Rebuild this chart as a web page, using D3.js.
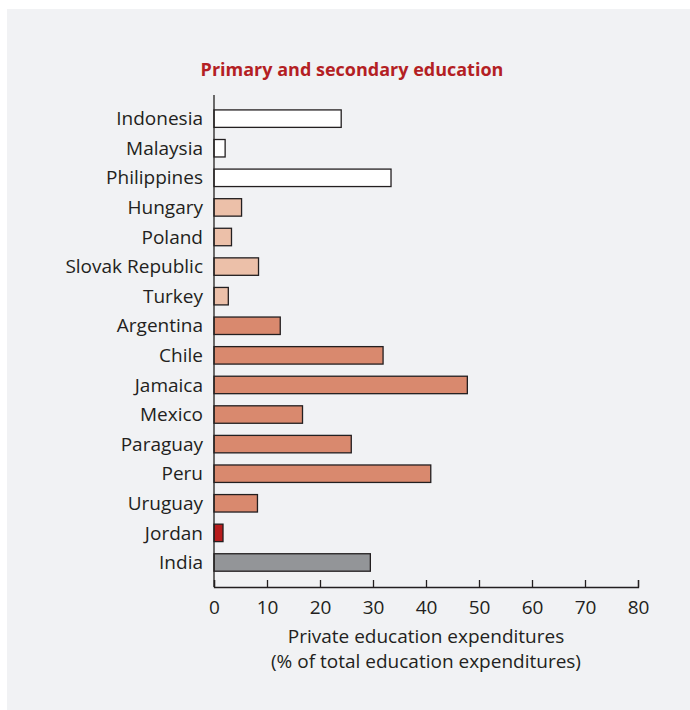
<!DOCTYPE html>
<html>
<head>
<meta charset="utf-8">
<script src="https://cdn.jsdelivr.net/npm/d3@7"></script>
<style>
  body { margin: 0; background: #fff; }
  svg { display: block; }
  text { font-family: "Open Sans", sans-serif; fill: #231f20; }
  .title { font-weight: bold; fill: #b41f24; font-size: 18px; }
  .axis path, .axis line { stroke: #231f20; stroke-width: 1.3; }
  .axis text { font-size: 19px; }
</style>
</head>
<body>
<svg id="chart" width="690" height="710"></svg>
<script>
// data
const countries = ['Indonesia', 'Malaysia', 'Philippines', 'Hungary', 'Poland', 'Slovak Republic', 'Turkey',
  'Argentina', 'Chile', 'Jamaica', 'Mexico', 'Paraguay', 'Peru', 'Uruguay', 'Jordan', 'India'];
const values = [24.0, 2.1, 33.4, 5.2, 3.3, 8.4, 2.7, 12.5, 31.9, 47.8, 16.7, 25.9, 40.9, 8.2, 1.7, 29.5];
const groups = ['asia', 'asia', 'asia', 'europe', 'europe', 'europe', 'europe',
  'latam', 'latam', 'latam', 'latam', 'latam', 'latam', 'latam', 'mena', 'south'];
const xTicks = [0, 10, 20, 30, 40, 50, 60, 70, 80];

const title = 'Primary and secondary education';
const xLabel1 = 'Private education expenditures';
const xLabel2 = '(% of total education expenditures)';

const colors = {asia: '#ffffff', europe: '#ecc0a9', latam: '#d9896e', mena: '#b71c1c', south: '#939598'};

const svg = d3.select('#chart');

// background panel
svg.append('rect')
  .attr('x', 7).attr('y', 9)
  .attr('width', 683).attr('height', 701)
  .attr('fill', '#f1f2f4');

const margin = {top: 95, left: 214},
    chartWidth = 638 - 214,
    chartHeight = 587 - 95;

const g = svg.append('g')
  .attr('transform', `translate(${margin.left}, ${margin.top})`);

// ---------- Scales
const xScale = d3.scaleLinear()
  .domain([0, 80])
  .range([0, chartWidth]);

const yScale = d3.scaleBand()
  .domain(countries)
  .range([9, 9 + 29.57 * 16])
  .paddingInner(0.41)
  .paddingOuter(0.2);

// bars
g.selectAll('.bar')
  .data(countries)
  .enter().append('rect')
  .attr('class', 'bar')
  .attr('x', 0)
  .attr('y', d => yScale(d))
  .attr('width', (d, i) => xScale(values[i]))
  .attr('height', yScale.bandwidth())
  .attr('fill', (d, i) => colors[groups[i]])
  .attr('stroke', '#231f20')
  .attr('stroke-width', 1.3);

// x axis, ticks pointing up
g.append('g')
  .attr('class', 'axis')
  .attr('transform', `translate(0, ${chartHeight})`)
  .call(d3.axisBottom(xScale).tickValues(xTicks).tickSize(-7).tickSizeOuter(-7).tickPadding(14))
  .call(a => a.select('.domain').attr('fill', 'none'));

// y axis line
g.append('line')
  .attr('x1', 0).attr('x2', 0)
  .attr('y1', 0).attr('y2', chartHeight)
  .attr('stroke', '#231f20')
  .attr('stroke-width', 1.3);

// country labels
g.selectAll('.label')
  .data(countries)
  .enter().append('text')
  .attr('class', 'label')
  .attr('x', -11)
  .attr('y', d => yScale(d) + yScale.bandwidth() / 2)
  .attr('dy', '0.35em')
  .attr('text-anchor', 'end')
  .style('font-size', '19px')
  .text(d => d);

// title
svg.append('text')
  .attr('class', 'title')
  .attr('x', 352)
  .attr('y', 76)
  .attr('text-anchor', 'middle')
  .text(title);

// x labels
svg.append('text')
  .attr('x', 426).attr('y', 643)
  .attr('text-anchor', 'middle')
  .style('font-size', '19px')
  .text(xLabel1);

svg.append('text')
  .attr('x', 426).attr('y', 668)
  .attr('text-anchor', 'middle')
  .style('font-size', '19px')
  .text(xLabel2);
</script>
</body>
</html>
